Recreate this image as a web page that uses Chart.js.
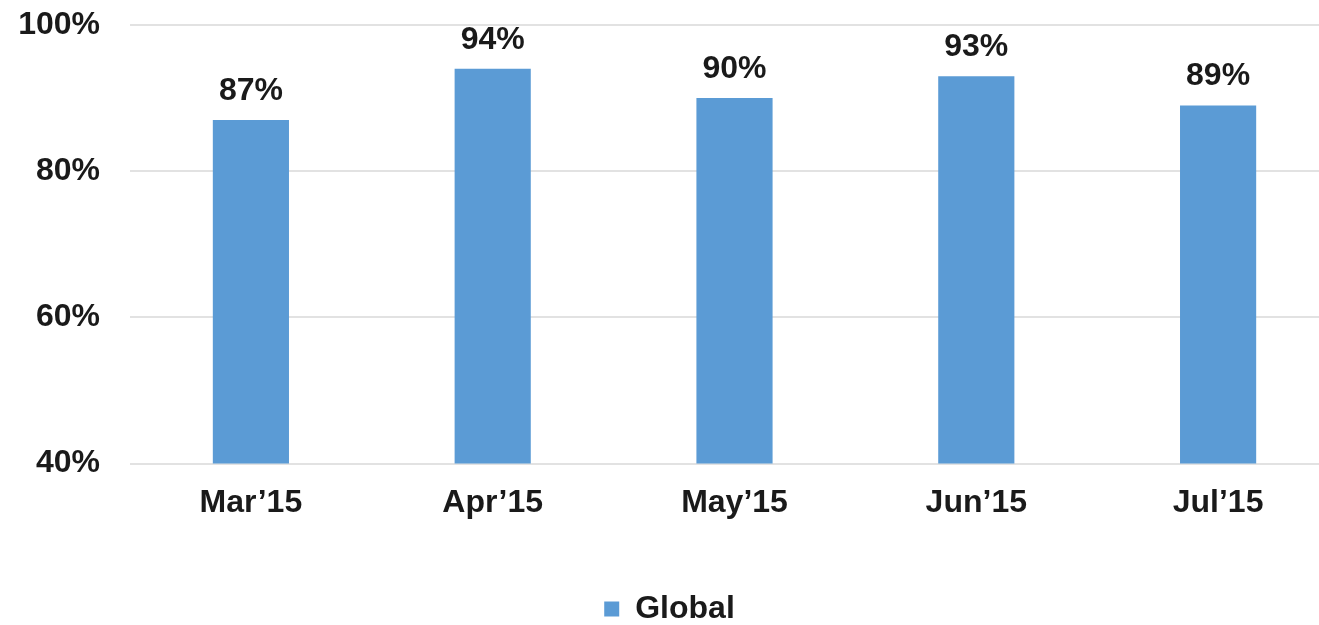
<!DOCTYPE html>
<html>
<head>
<meta charset="utf-8">
<script src="https://cdn.jsdelivr.net/npm/chart.js@4.4.1/dist/chart.umd.min.js"></script>
<style>
  html, body { margin: 0; padding: 0; background: #ffffff; overflow: hidden; }
  #wrap { position: relative; width: 1351px; height: 625px; }
</style>
</head>
<body>
<div id="wrap"><canvas id="chart"></canvas></div>
<script>
// Monthly share, in percent
const months = ["Mar\u201915", "Apr\u201915", "May\u201915", "Jun\u201915", "Jul\u201915"];
const globalValues = [87, 94, 90, 93, 89];
const seriesName = "Global";
const yTicks = [40, 60, 80, 100];

const FONT = "'Liberation Sans', Arial, sans-serif";
const BAR_BLUE = "#5b9bd5";

// Writes each bar's value above it, e.g. "87%"
const valueLabels = {
  id: "valueLabels",
  afterDatasetsDraw(chart) {
    const ctx = chart.ctx;
    ctx.save();
    ctx.font = "bold 32px " + FONT;
    ctx.fillStyle = "#1a1a1a";
    ctx.textAlign = "center";
    ctx.textBaseline = "alphabetic";
    chart.data.datasets.forEach((ds, di) => {
      chart.getDatasetMeta(di).data.forEach((bar, i) => {
        ctx.fillText(ds.data[i] + "%", bar.x, bar.y - 20);
      });
    });
    ctx.restore();
  }
};

new Chart(document.getElementById("chart"), {
  type: "bar",
  data: {
    labels: months,
    datasets: [{
      label: seriesName,
      data: globalValues,
      backgroundColor: BAR_BLUE,
      borderWidth: 0,
      categoryPercentage: 1,
      barPercentage: 0.315
    }]
  },
  options: {
    responsive: true,
    maintainAspectRatio: false,
    animation: false,
    layout: { padding: { left: 0, right: 12, top: 25, bottom: -10 } },
    scales: {
      x: {
        grid: { display: false, drawTicks: false },
        border: { display: false },
        afterFit(scale) { scale.height += 21; },
        ticks: {
          color: "#1a1a1a",
          font: { family: FONT, size: 32, weight: "bold" },
          padding: 20
        }
      },
      y: {
        min: 40,
        max: 100,
        afterBuildTicks(axis) { axis.ticks = yTicks.map(v => ({ value: v })); },
        afterFit(scale) {
          scale.width = 130;
          scale.paddingTop = 0;
          scale.paddingBottom = 0;
        },
        grid: { color: "#e2e2e2", lineWidth: 2, drawTicks: false },
        border: { display: false },
        ticks: {
          color: "#1a1a1a",
          font: { family: FONT, size: 32, weight: "bold" },
          padding: 30,
          callback: v => v + "%"
        }
      }
    },
    plugins: {
      legend: {
        position: "bottom",
        labels: {
          color: "#1a1a1a",
          font: { family: FONT, size: 32, weight: "bold" },
          boxWidth: 15,
          boxHeight: 15,
          padding: 30
        }
      },
      tooltip: { enabled: false }
    }
  },
  plugins: [valueLabels]
});
</script>
</body>
</html>
